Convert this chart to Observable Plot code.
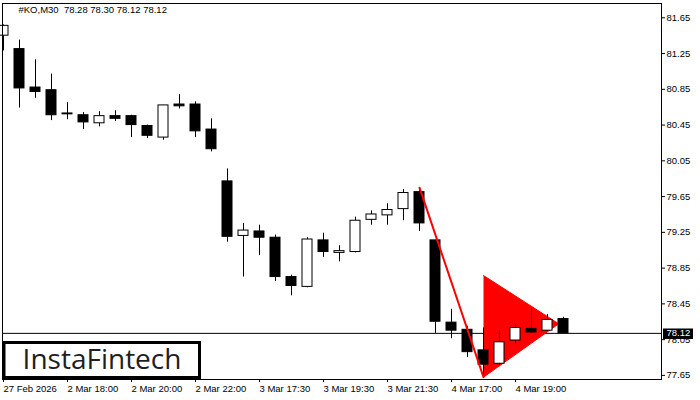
<!DOCTYPE html>
<html><head><meta charset="utf-8">
<script src="https://cdn.jsdelivr.net/npm/d3@7"></script>
<script src="https://cdn.jsdelivr.net/npm/@observablehq/plot@0.6"></script>
<style>body{margin:0;background:#fff}</style>
</head><body><div id="chart"></div>
<script>
const opens  = [81.45,81.30,80.87,80.84,80.58,80.56,80.47,80.55,80.55,80.44,80.31,80.68,80.68,80.40,79.82,79.21,79.26,79.19,78.75,78.64,79.16,79.02,79.03,79.39,79.44,79.51,79.70,79.16,78.24,78.16,77.93,77.78,78.04,78.17,78.15,78.28];
const highs  = [81.57,81.40,81.18,81.02,80.70,80.59,80.60,80.61,80.56,80.45,80.67,80.79,80.71,80.52,79.96,79.35,79.33,79.22,78.77,79.19,79.24,79.10,79.42,79.49,79.57,79.73,79.75,79.16,78.39,78.20,78.18,78.15,78.22,78.40,78.33,78.30];
const lows   = [81.28,80.64,80.75,80.50,80.51,80.40,80.43,80.49,80.31,80.30,80.28,80.63,80.31,80.15,79.14,78.75,78.99,78.70,78.54,78.63,78.97,78.92,79.02,79.33,79.33,79.38,79.26,78.12,78.06,77.85,77.63,77.76,78.00,78.12,78.14,78.12];
const closes = [81.56,80.86,80.82,80.56,80.57,80.48,80.55,80.52,80.45,80.33,80.67,80.66,80.38,80.18,79.20,79.27,79.19,78.75,78.65,79.17,79.03,79.04,79.38,79.45,79.50,79.69,79.35,78.25,78.15,77.91,77.77,78.02,78.18,78.13,78.27,78.12];

const yTicks = [81.65,81.25,80.85,80.45,80.05,79.65,79.25,78.85,78.45,78.05,77.65];
const xTickIdx = [0,4,8,12,16,20,24,28,32];
const xLabels = ["27 Feb 2026","2 Mar 18:00","2 Mar 20:00","2 Mar 22:00","3 Mar 17:30","3 Mar 19:30","3 Mar 21:30","4 Mar 17:00","4 Mar 19:00"];

const titleText = "#KO,M30  78.28 78.30 78.12 78.12";
const lastPrice = 78.12;
const flagPole = [{i: 26, p: 79.75}, {i: 30, p: 77.63}];
const pennant = [{i: 30, p: 78.767}, {i: 34.7, p: 78.227}, {i: 30, p: 77.63}];
const logoText = "InstaFintech";

const candles = opens.map((o, i) => ({i, open: o, high: highs[i], low: lows[i], close: closes[i]}));
const hw = 0.3125;

const lastBox = (index, scales, values, dims) => {
  const y = Math.round(scales.y(lastPrice));
  const x0 = dims.width - dims.marginRight + 2;
  const g = d3.create("svg:g");
  g.append("rect").attr("x", x0).attr("y", y - 4.5).attr("width", 30).attr("height", 10.5).attr("fill", "black");
  return g.node();
};

const logo = (index, scales, values, dims) => {
  const g = d3.create("svg:g");
  const bottom = dims.height - dims.marginBottom;
  g.append("rect").attr("x", 4).attr("y", bottom - 36.5).attr("width", 195.5).attr("height", 35)
    .attr("fill", "white").attr("stroke", "black").attr("stroke-width", 3);
  g.append("text").attr("x", 102).attr("y", bottom - 10).attr("text-anchor", "middle")
    .attr("font-family", "Open Sans").attr("font-size", "28px").attr("font-weight", 500)
    .attr("fill", "#1e1e1e").text(logoText);
  return g.node();
};

const chart = Plot.plot({
  width: 700, height: 400,
  marginTop: 3, marginRight: 39, marginBottom: 21, marginLeft: 2,
  style: {fontFamily: "Liberation Sans", fontSize: "9.5px", background: "white", color: "black"},
  x: {type: "linear", domain: [-0.0625, 41.125], axis: null},
  y: {domain: [77.604, 81.81], axis: null},
  marks: [
    Plot.ruleY([lastPrice], {stroke: "black"}),
    Plot.line(pennant, {x: "i", y: "p", fill: "red", stroke: "red", strokeWidth: 1}),
    Plot.ruleX(candles, {x: "i", y1: "low", y2: "high", stroke: "black"}),
    Plot.rect(candles, {x1: d => d.i - hw, x2: d => d.i + hw, y1: "open", y2: "close",
      fill: d => d.close >= d.open ? "white" : "black", stroke: "black"}),
    Plot.line(flagPole, {x: "i", y: "p", stroke: "red", strokeWidth: 2}),
    Plot.frame({stroke: "black"}),
    Plot.axisY({anchor: "right", ticks: yTicks, tickSize: 3, tickPadding: 2, tickFormat: d => d.toFixed(2), label: null}),
    Plot.axisX({anchor: "bottom", ticks: xTickIdx, tickSize: 3, tickPadding: 3, textAnchor: "start",
      tickFormat: d => xLabels[xTickIdx.indexOf(d)], label: null}),
    Plot.text([titleText], {frameAnchor: "top-left", dx: 16, dy: 3, fill: "black"}),
    lastBox,
    Plot.text([lastPrice], {y: d => d, frameAnchor: "right", dx: 5, textAnchor: "start", fill: "white",
      text: d => d.toFixed(2), clip: false}),
    logo
  ]
});
document.getElementById("chart").appendChild(chart);
</script>
</body></html>
